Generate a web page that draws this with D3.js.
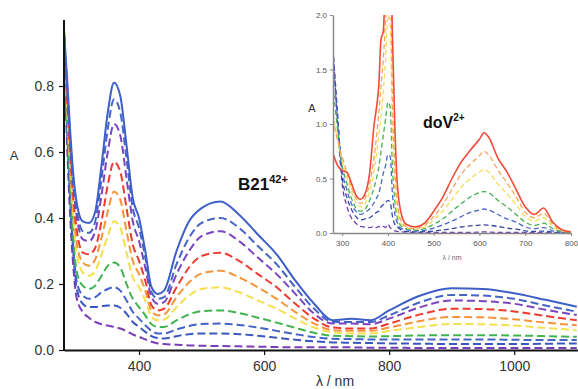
<!DOCTYPE html>
<html>
<head>
<meta charset="utf-8">
<script src="https://cdn.jsdelivr.net/npm/d3@7"></script>
<style>
  body { margin: 0; background: #fff; }
  svg { display: block; font-family: "Liberation Sans", Arial, sans-serif; }
</style>
</head>
<body>
<svg id="chart" width="578" height="389"></svg>
<script>
// main spectra (B21 42+)
const mainWl = [280, 285, 290, 295, 300, 310, 320, 330, 340, 350, 360, 370, 380, 390, 400, 410, 420, 430, 440, 460,
  480, 500, 530, 560, 590, 620, 650, 680, 710, 740, 770, 800, 850, 900, 950, 1000, 1050, 1100];
const mainSeries = [
  [0.90,0.62,0.40,0.25,0.16,0.115,0.098,0.085,0.078,0.074,0.07,0.065,0.057,0.047,0.04,0.032,0.025,0.02,0.018,0.016,0.014,0.013,0.012,0.011,0.01,0.009,0.008,0.008,0.008,0.008,0.007,0.007,0.006,0.006,0.006,0.006,0.006,0.006],
  [0.91,0.66,0.45,0.29,0.19,0.14,0.13,0.13,0.133,0.135,0.135,0.128,0.11,0.085,0.07,0.055,0.042,0.036,0.035,0.042,0.048,0.05,0.05,0.048,0.043,0.037,0.031,0.026,0.023,0.022,0.021,0.02,0.019,0.018,0.018,0.018,0.019,0.02],
  [0.92,0.68,0.47,0.31,0.21,0.165,0.155,0.16,0.175,0.185,0.19,0.18,0.15,0.115,0.095,0.075,0.058,0.05,0.05,0.062,0.073,0.079,0.08,0.076,0.068,0.058,0.048,0.039,0.034,0.033,0.032,0.032,0.032,0.032,0.032,0.031,0.03,0.03],
  [0.93,0.70,0.50,0.34,0.24,0.195,0.185,0.195,0.225,0.255,0.265,0.25,0.20,0.155,0.13,0.105,0.078,0.07,0.07,0.09,0.108,0.118,0.12,0.112,0.098,0.083,0.067,0.052,0.043,0.042,0.041,0.042,0.044,0.045,0.045,0.044,0.042,0.04],
  [0.94,0.73,0.55,0.40,0.30,0.235,0.225,0.24,0.29,0.345,0.39,0.37,0.295,0.22,0.19,0.15,0.10,0.09,0.092,0.13,0.165,0.185,0.19,0.175,0.15,0.125,0.095,0.068,0.053,0.05,0.05,0.058,0.07,0.079,0.078,0.074,0.067,0.06],
  [0.95,0.75,0.57,0.43,0.33,0.265,0.255,0.275,0.34,0.42,0.48,0.455,0.36,0.27,0.23,0.18,0.118,0.105,0.108,0.16,0.205,0.232,0.24,0.22,0.19,0.155,0.115,0.08,0.06,0.058,0.058,0.068,0.088,0.10,0.099,0.093,0.083,0.075],
  [0.95,0.77,0.60,0.46,0.37,0.295,0.29,0.31,0.39,0.50,0.57,0.54,0.43,0.32,0.27,0.21,0.135,0.12,0.125,0.19,0.25,0.285,0.295,0.27,0.23,0.19,0.14,0.095,0.068,0.065,0.065,0.08,0.108,0.125,0.124,0.117,0.103,0.09],
  [0.96,0.79,0.62,0.49,0.41,0.335,0.33,0.36,0.47,0.60,0.685,0.65,0.52,0.39,0.33,0.25,0.16,0.14,0.145,0.23,0.30,0.345,0.36,0.33,0.28,0.23,0.17,0.11,0.08,0.08,0.078,0.095,0.13,0.15,0.148,0.14,0.122,0.106],
  [0.96,0.80,0.64,0.51,0.43,0.36,0.355,0.39,0.52,0.67,0.76,0.72,0.58,0.43,0.37,0.28,0.175,0.155,0.16,0.26,0.34,0.385,0.40,0.37,0.315,0.26,0.19,0.125,0.085,0.085,0.085,0.105,0.145,0.167,0.165,0.155,0.135,0.116],
  [0.97,0.82,0.66,0.53,0.45,0.39,0.385,0.42,0.56,0.72,0.81,0.77,0.62,0.46,0.40,0.30,0.19,0.17,0.18,0.30,0.39,0.43,0.45,0.41,0.35,0.29,0.21,0.14,0.09,0.095,0.09,0.12,0.165,0.187,0.185,0.172,0.152,0.131]
];
const mainColors = ["#7a3db8", "#3a56c0", "#4463c8", "#3fb34f", "#f4e04c", "#f7943a", "#ec3b2e", "#7b44c0", "#4564c6", "#3d5fc8"];
const mainTicksX = [400, 600, 800, 1000];
const mainTicksY = [0.0, 0.2, 0.4, 0.6, 0.8];

// inset spectra (doV 2+)
const insetWl = [280, 290, 300, 310, 320, 330, 340, 350, 360, 370, 375, 380, 385, 390, 395, 400, 405, 410, 415, 420,
  430, 440, 460, 480, 500, 520, 540, 560, 580, 600, 610, 620, 640, 660, 680, 700, 720, 740, 760, 780, 800];
const insetSeries = [
  [1.70,1.0,0.45,0.25,0.14,0.09,0.06,0.055,0.05,0.06,0.05,0.06,0.05,0.06,0.05,0.08,0.05,0.03,0.02,0.015,0.01,0.008,0.006,0.005,0.005,0.005,0.005,0.005,0.006,0.008,0.01,0.008,0.006,0.005,0.005,0.004,0.003,0.003,0.002,0.002,0.002],
  [1.68,1.10,0.52,0.33,0.22,0.15,0.12,0.13,0.14,0.17,0.19,0.20,0.24,0.26,0.28,0.30,0.28,0.15,0.08,0.06,0.025,0.015,0.01,0.012,0.018,0.028,0.04,0.055,0.065,0.072,0.075,0.072,0.06,0.045,0.035,0.02,0.015,0.018,0.008,0.004,0.002],
  [1.60,1.05,0.58,0.40,0.27,0.20,0.17,0.19,0.22,0.28,0.32,0.36,0.45,0.55,0.62,0.72,0.70,0.35,0.18,0.10,0.04,0.03,0.02,0.025,0.045,0.075,0.11,0.15,0.19,0.21,0.22,0.21,0.17,0.13,0.10,0.055,0.04,0.05,0.02,0.008,0.004],
  [1.35,0.95,0.62,0.46,0.32,0.23,0.20,0.22,0.30,0.42,0.50,0.60,0.75,0.90,1.05,1.20,1.15,0.60,0.30,0.15,0.06,0.04,0.03,0.04,0.08,0.13,0.20,0.27,0.33,0.37,0.38,0.37,0.30,0.24,0.17,0.10,0.07,0.09,0.04,0.015,0.006],
  [1.10,0.85,0.66,0.52,0.38,0.28,0.24,0.27,0.38,0.58,0.72,0.90,1.08,1.30,1.60,2.0,1.9,0.9,0.45,0.22,0.08,0.05,0.035,0.055,0.12,0.20,0.31,0.42,0.50,0.56,0.58,0.56,0.45,0.36,0.26,0.15,0.11,0.14,0.06,0.02,0.008],
  [1.05,0.85,0.70,0.56,0.42,0.32,0.27,0.32,0.45,0.70,0.88,1.10,1.35,1.60,1.95,2.3,2.3,1.2,0.6,0.30,0.10,0.06,0.04,0.07,0.15,0.26,0.40,0.54,0.63,0.71,0.75,0.72,0.58,0.46,0.33,0.19,0.14,0.18,0.08,0.025,0.01],
  [0.73,0.62,0.57,0.56,0.46,0.35,0.31,0.36,0.55,1.0,1.15,1.35,1.78,1.85,2.4,2.6,2.6,1.8,1.0,0.48,0.16,0.08,0.055,0.09,0.20,0.33,0.50,0.65,0.76,0.86,0.92,0.88,0.69,0.56,0.40,0.24,0.17,0.23,0.10,0.03,0.01]
];
const insetColors = ["#7040b0", "#3445a8", "#4a66c4", "#44b054", "#f6dc5c", "#f8a558", "#f04a38"];
const insetTicksX = [300, 400, 500, 600, 700, 800];
const insetTicksY = [0.0, 0.5, 1.0, 1.5, 2.0];

const svg = d3.select('#chart');

// ---- main plot ----
const m = { left: 64, right: 578, top: 20, bottom: 350 };
const x = d3.scaleLinear().domain([280, 1102]).range([m.left, m.right]);
const y = d3.scaleLinear().domain([0, 1]).range([m.bottom, m.top]);

svg.append('clipPath').attr('id', 'clipMain')
  .append('rect').attr('x', m.left).attr('y', m.top - 10)
  .attr('width', m.right - m.left).attr('height', m.bottom - m.top + 10);

const line = d3.line()
  .x(d => x(d[0])).y(d => y(d[1]))
  .curve(d3.curveMonotoneX);

const gMain = svg.append('g').attr('clip-path', 'url(#clipMain)');
mainSeries.forEach((vals, i) => {
  const solid = i === mainSeries.length - 1;
  gMain.append('path')
    .datum(mainWl.map((w, k) => [w, vals[k]]))
    .attr('d', line)
    .attr('fill', 'none')
    .attr('stroke', mainColors[i])
    .attr('stroke-width', 2)
    .attr('stroke-dasharray', solid ? null : '8,4');
});

const xAxis = svg.append('g')
  .attr('transform', `translate(0,${m.bottom})`)
  .call(d3.axisBottom(x).tickValues(mainTicksX).tickFormat(d3.format('d')).tickSize(5).tickSizeOuter(0).tickPadding(6));
const yAxis = svg.append('g')
  .attr('transform', `translate(${m.left},0)`)
  .call(d3.axisLeft(y).tickValues(mainTicksY).tickFormat(d3.format('.1f')).tickSize(5).tickSizeOuter(0).tickPadding(5));
[xAxis, yAxis].forEach(a => {
  a.select('.domain').attr('stroke', '#111').attr('stroke-width', 2);
  a.selectAll('.tick line').attr('stroke', '#111').attr('stroke-width', 1.2);
  a.selectAll('.tick text').attr('fill', '#333').style('font-size', '14px')
    .style('font-family', '"Liberation Sans", Arial, sans-serif');
});
yAxis.select('.domain').attr('d', `M0,${m.bottom + 1}V${m.top}`);

svg.append('text').attr('x', 14).attr('y', 160).attr('text-anchor', 'middle')
  .attr('fill', '#333').style('font-size', '13px').text('A');
svg.append('text').attr('x', 335).attr('y', 386).attr('text-anchor', 'middle')
  .attr('fill', '#333').style('font-size', '14px').text('λ / nm');

const lab1 = svg.append('text').attr('x', 238).attr('y', 190)
  .attr('fill', '#111').style('font-weight', 'bold').style('font-size', '17px');
lab1.append('tspan').text('B21');
lab1.append('tspan').attr('dy', -7).style('font-size', '11px').text('42+');

// ---- inset ----
const n = { left: 333, right: 571, top: 15, bottom: 233 };
const xi = d3.scaleLinear().domain([280, 800]).range([n.left, n.right]);
const yi = d3.scaleLinear().domain([0, 2]).range([n.bottom, n.top]);

svg.append('clipPath').attr('id', 'clipInset')
  .append('rect').attr('x', n.left).attr('y', n.top)
  .attr('width', n.right - n.left).attr('height', n.bottom - n.top);

const lineI = d3.line()
  .x(d => xi(d[0])).y(d => yi(d[1]))
  .curve(d3.curveMonotoneX);

const gIn = svg.append('g').attr('clip-path', 'url(#clipInset)');
insetSeries.forEach((vals, i) => {
  const solid = i === insetSeries.length - 1;
  gIn.append('path')
    .datum(insetWl.map((w, k) => [w, vals[k]]))
    .attr('d', lineI)
    .attr('fill', 'none')
    .attr('stroke', insetColors[i])
    .attr('stroke-width', solid ? 1.6 : 1.3)
    .attr('stroke-dasharray', solid ? null : '5,3');
});

const xiAxis = svg.append('g')
  .attr('transform', `translate(0,${n.bottom})`)
  .call(d3.axisBottom(xi).tickValues(insetTicksX).tickSize(3).tickSizeOuter(0).tickPadding(4));
const yiAxis = svg.append('g')
  .attr('transform', `translate(${n.left},0)`)
  .call(d3.axisLeft(yi).tickValues(insetTicksY).tickFormat(d3.format('.1f')).tickSize(3).tickSizeOuter(0).tickPadding(3));
[xiAxis, yiAxis].forEach(a => {
  a.select('.domain').attr('stroke', '#888').attr('stroke-width', 1.5);
  a.selectAll('.tick line').attr('stroke', '#888');
  a.selectAll('.tick text').attr('fill', '#555').style('font-size', '8px')
    .style('font-family', '"Liberation Sans", Arial, sans-serif');
});

svg.append('text').attr('x', 312).attr('y', 112).attr('text-anchor', 'middle')
  .attr('fill', '#333').style('font-size', '11px').text('A');
svg.append('text').attr('x', 452).attr('y', 260).attr('text-anchor', 'middle')
  .attr('fill', '#666').style('font-size', '7px').text('λ / nm');

const lab2 = svg.append('text').attr('x', 423).attr('y', 128)
  .attr('fill', '#111').style('font-weight', 'bold').style('font-size', '16px');
lab2.append('tspan').text('doV');
lab2.append('tspan').attr('dy', -7).style('font-size', '10px').text('2+');
</script>
</body>
</html>
